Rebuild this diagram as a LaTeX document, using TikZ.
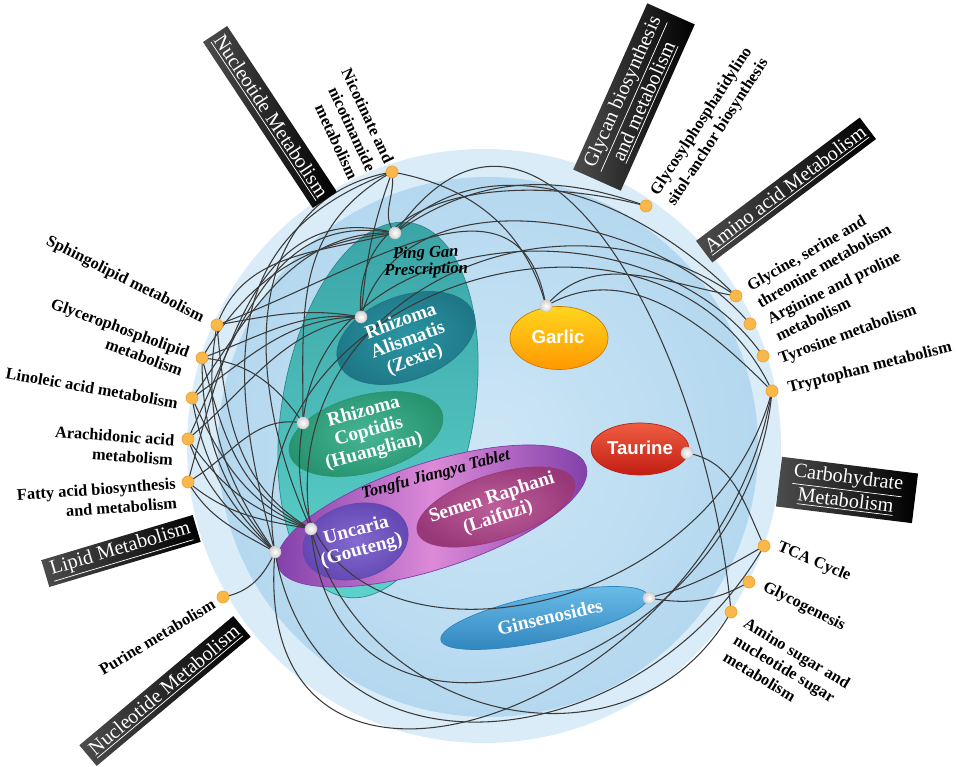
\documentclass[tikz,border=0pt]{standalone}
\usepackage{fontspec}
\setmainfont{Liberation Serif}
\newfontfamily\arialfam{Liberation Sans}
\usetikzlibrary{shapes.geometric}

\definecolor{ringout}{HTML}{D9ECF8}
\definecolor{ringmid}{HTML}{B4D8EF}
\definecolor{ringin}{HTML}{CDE6F6}
\definecolor{linkgray}{HTML}{3A3A3A}
\definecolor{dotfill}{HTML}{F9B94A}
\definecolor{dotedge}{HTML}{EFA236}
\definecolor{pgtop}{HTML}{3AA3A6}
\definecolor{pgbot}{HTML}{5CD2CA}
\definecolor{pgedge}{HTML}{2C8A8C}
\definecolor{rain}{HTML}{2B95A2}
\definecolor{raout}{HTML}{1E7686}
\definecolor{rcin}{HTML}{47B594}
\definecolor{rcout}{HTML}{27936F}
\definecolor{tjside}{HTML}{7E3DA8}
\definecolor{tjmid}{HTML}{DC8AD8}
\definecolor{unin}{HTML}{826ACF}
\definecolor{unout}{HTML}{6246B2}
\definecolor{srin}{HTML}{BD5F9A}
\definecolor{srout}{HTML}{993879}
\definecolor{gatop}{HTML}{FFD51F}
\definecolor{gabot}{HTML}{FF9800}
\definecolor{tatop}{HTML}{EF5D42}
\definecolor{tabot}{HTML}{C21D12}
\definecolor{gitop}{HTML}{6CBDE9}
\definecolor{gibot}{HTML}{2E84BD}

\newcommand{\pwfont}{\fontsize{9.3}{11.2}\selectfont\bfseries}
\newcommand{\catfont}{\fontsize{11.5}{13.5}\selectfont}
\newcommand{\herbfont}{\fontsize{11}{11.5}\selectfont\bfseries}
\newcommand{\tabfont}{\fontsize{9.4}{7.5}\selectfont\bfseries\itshape}
\newcommand{\sanslab}{\arialfam\fontsize{10.6}{12}\selectfont\bfseries}

\begin{document}
\begin{tikzpicture}[x=0.02cm,y=0.02cm,
  link/.style={draw=linkgray,line width=0.6pt},
  pathdot/.style={circle,fill=dotfill,draw=dotedge,line width=0.4pt,minimum size=0.24cm,inner sep=0},
  herbdot/.style={circle,inner color=white,outer color=gray!35,draw=gray!45,line width=0.3pt,minimum size=0.24cm,inner sep=0},
  pwlabel/.style={font=\pwfont,inner sep=0},
  catbox/.style={font=\catfont,text=white,left color=black!70,right color=black,inner sep=1pt,align=center},
  herbshape/.style={ellipse,inner sep=0,line width=0.4pt},
  herbtext/.style={font=\herbfont,text=white,align=center,inner sep=0},
  tablabel/.style={font=\tabfont,align=center,inner sep=0}]
\useasboundingbox (0,0) rectangle (957,767);

\fill[ringout] (484,321) circle [radius=297];
\shade[inner color=ringin,outer color=ringmid] (488,320) circle [radius=270];

\node[herbshape,minimum width=3.84cm,minimum height=7.6cm,rotate=-10,top color=pgtop,bottom color=pgbot,draw=pgedge] (pinggan) at (378,357) {};
\node[herbshape,minimum width=2.88cm,minimum height=1.68cm,rotate=20,inner color=rain,outer color=raout,draw=raout] (alismatis) at (406,429) {};
\node[herbshape,minimum width=3.16cm,minimum height=1.54cm,rotate=15,inner color=rcin,outer color=rcout,draw=rcout] (coptidis) at (366,333) {};
\node[herbshape,minimum width=6.48cm,minimum height=2.12cm,rotate=18,left color=tjside,right color=tjside,middle color=tjmid,draw=tjside] (tongfu) at (432,251) {};
\node[herbshape,minimum width=2.14cm,minimum height=1.49cm,rotate=15,inner color=unin,outer color=unout,draw=unout] (uncaria) at (355.5,225.5) {};
\node[herbshape,minimum width=3.3cm,minimum height=1.3cm,rotate=18,inner color=srin,outer color=srout,draw=srout] (raphani) at (496,260) {};
\node[herbshape,minimum width=1.96cm,minimum height=1.26cm,top color=gatop,bottom color=gabot,draw=gabot!80!black] (garlic) at (559,429) {};
\node[herbshape,minimum width=1.96cm,minimum height=1.04cm,top color=tatop,bottom color=tabot,draw=tabot] (taurine) at (640,318) {};
\node[herbshape,minimum width=4.24cm,minimum height=0.92cm,rotate=12,top color=gitop,bottom color=gibot,draw=gibot] (ginseng) at (544.5,149) {};

\coordinate (PG) at (395,534);
\coordinate (RA) at (361,450);
\coordinate (RC) at (303,344);
\coordinate (UN) at (311,238);
\coordinate (TJ) at (275,215);
\coordinate (GA) at (546,461);
\coordinate (TA) at (687,314);
\coordinate (GI) at (649,169);
\coordinate (NI) at (392,595);
\coordinate (GL) at (646,561);
\coordinate (GS) at (736,471);
\coordinate (AP) at (750,443);
\coordinate (TY) at (763,411);
\coordinate (TR) at (772,376);
\coordinate (TC) at (764,221);
\coordinate (GG) at (749,185);
\coordinate (AS) at (731,155);
\coordinate (PU) at (223,170);
\coordinate (FA) at (188,285);
\coordinate (AR) at (188,328);
\coordinate (LI) at (192,369);
\coordinate (GP) at (202,409);
\coordinate (SP) at (217,442);

\draw[link] (PG) to[out=195,in=70] (SP);
\draw[link] (PG) to[out=185,in=60] (GP);
\draw[link] (PG) to[out=178,in=55] (LI);
\draw[link] (PG) to[out=170,in=65,looseness=1.1] (AR);
\draw[link] (PG) to[out=165,in=75,looseness=1.1] (FA);
\draw[link] (RA) to[out=170,in=10] (SP);
\draw[link] (RA) to[out=175,in=20] (GP);
\draw[link] (RA) to[out=180,in=35] (LI);
\draw[link] (RA) to[out=190,in=40] (AR);
\draw[link] (RC) to[out=125,in=-5] (GP);
\draw[link] (RC) to[out=170,in=30] (FA);
\draw[link] (UN) to[out=150,in=-85] (SP);
\draw[link] (UN) to[out=155,in=-75] (GP);
\draw[link] (UN) to[out=160,in=-65] (LI);
\draw[link] (UN) to[out=165,in=-55] (AR);
\draw[link] (UN) to[out=170,in=-40] (FA);
\draw[link] (TJ) to[out=125,in=-100] (SP);
\draw[link] (TJ) to[out=130,in=-90] (GP);
\draw[link] (TJ) to[out=135,in=-80] (LI);
\draw[link] (TJ) to[out=140,in=-70] (AR);
\draw[link] (TJ) to[out=150,in=-60] (FA);
\draw[link] (TJ) to[out=-115,in=10] (PU);
\draw[link] (PG) to[out=130,in=-80] (NI);
\draw[link] (RA) to[out=85,in=-110] (NI);
\draw[link] (RC) to[out=90,in=-150,looseness=1.1] (NI);
\draw[link] (UN) to[out=115,in=-170,looseness=1.1] (NI);
\draw[link] (TJ) to[out=105,in=-160,looseness=1.2] (NI);
\draw[link] (GA) to[out=105,in=-10] (NI);
\draw[link] (GA) to[out=100,in=20,looseness=1.2] (SP);
\draw[link] (PG) to[out=35,in=160] (GL);
\draw[link] (RA) to[out=95,in=165,looseness=1.1] (GL);
\draw[link] (PG) to[out=45,in=135] (GS);
\draw[link] (RA) to[out=75,in=130] (AP);
\draw[link] (RC) to[out=85,in=125,looseness=1.1] (TY);
\draw[link] (UN) to[out=100,in=145,looseness=1.2] (GS);
\draw[link] (TJ) to[out=100,in=115,looseness=1.3] (TR);
\draw[link] (GA) to[out=50,in=170] (GS);
\draw[link] (GA) to[out=30,in=135] (TR);
\draw[link] (PG) to[out=55,in=95,looseness=1.3] (AS);
\draw[link] (TJ) to[out=-95,in=-100,looseness=1.6] (TR);
\draw[link] (UN) to[out=-85,in=-95,looseness=1.5] (TR);
\draw[link] (RC) to[out=-100,in=-105,looseness=1.5] (TR);
\draw[link] (TJ) to[out=-80,in=-120,looseness=1.3] (TC);
\draw[link] (UN) to[out=-75,in=-120,looseness=1.2] (AS);
\draw[link] (TA) to[out=-10,in=115] (TC);
\draw[link] (GI) to[out=15,in=-150] (TC);
\draw[link] (GI) to[out=-10,in=-150] (GG);

\node[tablabel,rotate=2] (pingganT) at (426,505) {Ping Gan\\Prescription};
\node[tablabel,rotate=15] (tongfuT) at (436,292) {Tongfu Jiangya Tablet};
\node[herbtext,rotate=20] (alismatisT) at (408,426) {Rhizoma\\Alismatis\\(Zexie)};
\node[herbtext,rotate=15] (coptidisT) at (369,335) {Rhizoma\\Coptidis\\(Huanglian)};
\node[herbtext,rotate=15] (uncariaT) at (359,226) {Uncaria\\(Gouteng)};
\node[herbtext,rotate=18] (raphaniT) at (495,259) {Semen Raphani\\(Laifuzi)};
\node[herbtext,rotate=13] (ginsengT) at (550,150) {Ginsenosides};
\node[herbtext,font=\sanslab] (garlicT) at (558,430) {Garlic};
\node[herbtext,font=\sanslab] (taurineT) at (640,319) {Taurine};

\node[herbdot] (dotPG) at (PG) {};
\node[herbdot] (dotRA) at (RA) {};
\node[herbdot] (dotRC) at (RC) {};
\node[herbdot] (dotUN) at (UN) {};
\node[herbdot] (dotTJ) at (TJ) {};
\node[herbdot] (dotGA) at (GA) {};
\node[herbdot] (dotTA) at (TA) {};
\node[herbdot] (dotGI) at (GI) {};
\node[pathdot] (dotNI) at (NI) {};
\node[pathdot] (dotGL) at (GL) {};
\node[pathdot] (dotGS) at (GS) {};
\node[pathdot] (dotAP) at (AP) {};
\node[pathdot] (dotTY) at (TY) {};
\node[pathdot] (dotTR) at (TR) {};
\node[pathdot] (dotTC) at (TC) {};
\node[pathdot] (dotGG) at (GG) {};
\node[pathdot] (dotAS) at (AS) {};
\node[pathdot] (dotPU) at (PU) {};
\node[pathdot] (dotFA) at (FA) {};
\node[pathdot] (dotAR) at (AR) {};
\node[pathdot] (dotLI) at (LI) {};
\node[pathdot] (dotGP) at (GP) {};
\node[pathdot] (dotSP) at (SP) {};

\node[pwlabel,rotate=-65,align=right] (labNI) at (350,643) {Nicotinate and\\nicotinamide\\metabolism};
\node[pwlabel,rotate=57,align=left] (labGL) at (710,640) {Glycosylphosphatidylino\\sitol-anchor biosynthesis};
\node[pwlabel,rotate=30,align=left] (labGS) at (819,510) {Glycine, serine and\\threonine metabolism};
\node[pwlabel,rotate=26,align=left] (labAP) at (838,471) {Arginine and proline\\metabolism};
\node[pwlabel,rotate=20] (labTY) at (848,432) {Tyrosine metabolism};
\node[pwlabel,rotate=14] (labTR) at (870,399) {Tryptophan metabolism};
\node[pwlabel,rotate=-23] (labTC) at (814,205) {TCA Cycle};
\node[pwlabel,rotate=-27] (labGG) at (804,160) {Glycogenesis};
\node[pwlabel,rotate=-31,align=left] (labAS) at (787,97) {Amino sugar and\\nucleotide sugar\\metabolism};
\node[pwlabel,rotate=31] (labPU) at (157,130) {Purine metabolism};
\node[pwlabel,rotate=4,align=right] (labFA) at (97,268) {Fatty acid biosynthesis\\and metabolism};
\node[pwlabel,rotate=-4,align=right] (labAR) at (114,321) {Arachidonic acid\\metabolism};
\node[pwlabel,rotate=-10] (labLI) at (92,379) {Linoleic acid metabolism};
\node[pwlabel,rotate=-20,align=right] (labGP) at (117,430) {Glycerophospholipid\\metabolism};
\node[pwlabel,rotate=-26.5] (labSP) at (125,487) {Sphingolipid metabolism};

\node[catbox,rotate=-56.5,minimum width=3.98cm,minimum height=0.58cm] (boxNucTop) at (270,650) {\underline{Nucleotide Metabolism}};
\node[catbox,rotate=66,minimum width=3.64cm,minimum height=1.04cm] (boxGlycan) at (634,670) {\underline{Glycan biosynthesis}\\\underline{and metabolism}};
\node[catbox,rotate=37,minimum width=4.1cm,minimum height=0.54cm] (boxAmino) at (786,577) {\underline{Amino acid Metabolism}};
\node[catbox,rotate=-7,minimum width=2.74cm,minimum height=1cm] (boxCarb) at (847,277) {\underline{Carbohydrate}\\\underline{Metabolism}};
\node[catbox,rotate=16.6,minimum width=3.16cm,minimum height=0.56cm] (boxLipid) at (121,216) {\underline{Lipid Metabolism}};
\node[catbox,rotate=40,minimum width=4.02cm,minimum height=0.54cm] (boxNucBot) at (165,76) {\underline{Nucleotide Metabolism}};
\end{tikzpicture}
\end{document}
